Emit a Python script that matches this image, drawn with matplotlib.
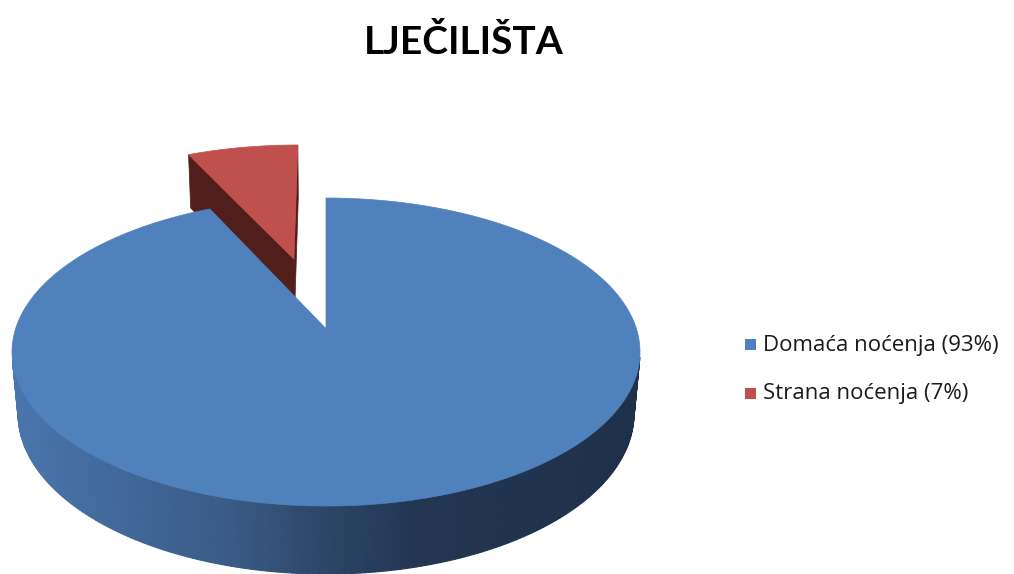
import numpy as np
import matplotlib
matplotlib.use('Agg')
import matplotlib.pyplot as plt
from matplotlib.patches import Polygon, Rectangle

# 数据
title = 'LJEČILIŠTA'
labels = ['Domaća noćenja', 'Strana noćenja']
shares = [93, 7]
explode = [0.0, 0.51]
top_colors = ['#4f81bd', '#c0504d']
face_colors = ['#2a4060', '#521e1c']

# 透视参数
phi = np.radians(29.0)     # 俯视角
dist = 5.77                # 相机距离 (饼半径=1)
height = 0.23              # 饼的厚度
box = (12, 640, 198)       # 顶面外轮廓: 左, 右, 上 (像素)

cam = np.array([0.0, -dist * np.cos(phi), dist * np.sin(phi)])
fwd = np.array([0.0, np.cos(phi), -np.sin(phi)])
up = np.array([0.0, np.sin(phi), np.cos(phi)])


def proj_raw(p):
    r = np.asarray(p, float) - cam
    d = r @ fwd
    return r[..., 0] / d, (r @ up) / d


# 根据顶面轮廓确定缩放和平移
tt = np.linspace(0, 2 * np.pi, 2000)
ring = np.stack([np.cos(tt), np.sin(tt), np.zeros_like(tt)], axis=1)
rx_, ry_ = proj_raw(ring)
scale = (box[1] - box[0]) / (rx_.max() - rx_.min())
x0 = box[0] - scale * rx_.min()
y0 = box[2] + scale * ry_.max()


def proj(p):
    sx, sy = proj_raw(p)
    return np.stack([x0 + scale * sx, y0 - scale * sy], axis=-1)


# 侧面渐变色 (按 x 位置插值)
grad_x = [12, 120, 230, 330, 420, 640]
grad_c = ['#4a76ad', '#416899', '#3a5b86', '#2c4466', '#223653', '#1f3049']
grad_rgb = np.array([matplotlib.colors.to_rgb(c) for c in grad_c])


def side_color(x):
    return [np.interp(x, grad_x, grad_rgb[:, k]) for k in range(3)]


plt.rcParams['font.family'] = ['Open Sans', 'DejaVu Sans']
fig = plt.figure(figsize=(10.14, 5.74), dpi=100)
ax = fig.add_axes([0, 0, 1, 1])
ax.set_xlim(0, 1014)
ax.set_ylim(574, 0)
ax.axis('off')

# 计算每个扇区的角度 (从 12 点钟方向顺时针)
total = float(sum(shares))
start = 90.0
slices = []
for i, v in enumerate(shares):
    t1 = start - 360.0 * v / total
    slices.append((i, np.radians(t1), np.radians(start)))
    start = t1

# 先画后面的扇区, 再画前面的
for i, t1, t2 in sorted(slices, key=lambda s: -np.sin((s[1] + s[2]) / 2)):
    mid = (t1 + t2) / 2
    o = np.array([explode[i] * np.cos(mid), explode[i] * np.sin(mid), 0.0])
    zd = np.array([0.0, 0.0, -height])
    ts = np.linspace(t1, t2, 400)
    rim = o + np.stack([np.cos(ts), np.sin(ts), np.zeros_like(ts)], axis=1)

    # 外侧面 (只画朝向相机的部分)
    top_rim = proj(rim)
    bot_rim = proj(rim + zd)
    for k in range(len(ts) - 1):
        n = np.array([np.cos(ts[k]), np.sin(ts[k]), 0.0])
        if (cam - rim[k]) @ n > 0:
            quad = [top_rim[k], top_rim[k + 1], bot_rim[k + 1], bot_rim[k]]
            c = side_color((top_rim[k][0] + top_rim[k + 1][0]) / 2)
            ax.add_patch(Polygon(quad, closed=True, facecolor=c, edgecolor=c, lw=0.8))

    # 切面
    for t, sgn in [(t2, 1), (t1, -1)]:
        n = sgn * np.array([-np.sin(t), np.cos(t), 0.0])
        if (cam - o) @ n > 1e-6:
            e = o + np.array([np.cos(t), np.sin(t), 0.0])
            face = proj(np.array([o, e, e + zd, o + zd]))
            ax.add_patch(Polygon(face, closed=True, facecolor=face_colors[i],
                                 edgecolor=face_colors[i], lw=0.5))

    # 顶面
    poly = np.vstack([proj(o[None, :]), top_rim])
    ax.add_patch(Polygon(poly, closed=True, facecolor=top_colors[i],
                         edgecolor=top_colors[i], lw=0.5))

# 标题
ax.text(464, 42, title, ha='center', va='center', fontsize=28, fontweight='bold',
        color='black', family=['Lato', 'DejaVu Sans'])

# 图例
leg_y = [345, 394]
for i, lab in enumerate(labels):
    ax.add_patch(Rectangle((745, leg_y[i] - 6), 11, 11, facecolor=top_colors[i],
                           edgecolor='none'))
    ax.text(763, leg_y[i], f'{lab} ({shares[i]}%)', ha='left', va='center',
            fontsize=16, color='#1a1a1a')

fig.savefig('out.png', dpi=100)
